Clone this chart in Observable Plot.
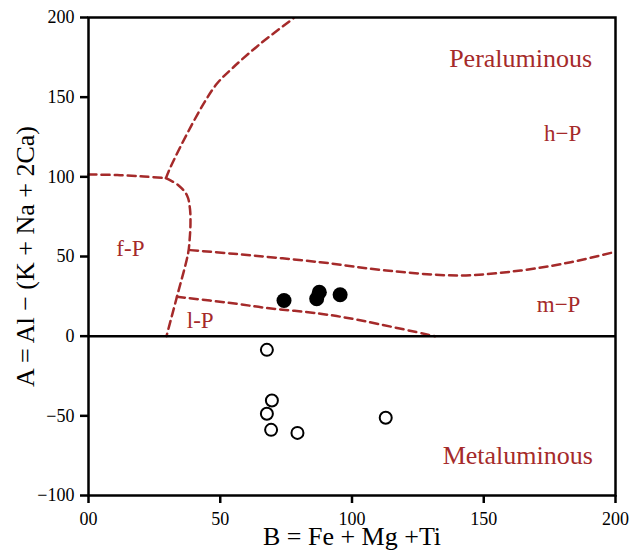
<!DOCTYPE html>
<html>
<head>
<meta charset="utf-8">
<script src="https://cdn.jsdelivr.net/npm/d3@7"></script>
<script src="https://cdn.jsdelivr.net/npm/@observablehq/plot@0.6"></script>
<style>
  html, body { margin: 0; padding: 0; background: white; }
  #chart svg { display: block; }
</style>
</head>
<body>
<div id="chart"></div>
<script>
// ---- Data ----
const xTicks = [0, 50, 100, 150, 200];
const xTickLabels = ["00", "50", "100", "150", "200"];
const yTicks = [-100, -50, 0, 50, 100, 150, 200];
const yTickLabels = ["\u2212100", "\u221250", "0", "50", "100", "150", "200"];

const xTitle = "B = Fe + Mg +Ti";
const yTitle = "A = Al \u2212 (K + Na + 2Ca)";

// Filled samples (peraluminous)
const filledB = [74.2, 87.6, 86.6, 95.5];
const filledA = [22.4, 27.6, 23.5, 26.0];

// Open samples (metaluminous)
const openB = [67.7, 69.6, 67.7, 69.3, 79.3, 112.8];
const openA = [-8.6, -40.4, -48.7, -58.8, -60.7, -51.2];

// Boundary curves (B, A)
const boundaryFP_top = [[0, 101.5], [10.9, 101.1], [21, 100.2], [29.4, 99.2]];
const boundaryHP_left = [[29.4, 99.2], [31.1, 106], [37.4, 127], [43.7, 145.9], [48.7, 158.4], [55, 168.8], [65.2, 183.5], [77.8, 199.5]];
const boundaryFP_right = [[29.4, 99.2], [34.2, 94.6], [37.4, 88.3], [38.5, 80], [38.7, 71], [38.4, 61], [37.8, 52], [33.6, 25], [29.6, 0]];
const boundaryMP_top = [[38.6, 54], [55, 51.7], [88, 46.4], [113, 41.2], [141, 38.1], [164, 41.2], [183, 46.4], [200, 53]];
const boundaryLP_top = [[33.6, 24.7], [56.3, 20.3], [67, 17.8], [88, 14.1], [102, 10.3], [131.5, 0]];

// Region labels
const regionNames = ["Peraluminous", "h\u2212P", "f-P", "l-P", "m\u2212P", "Metaluminous"];
const regionB = [164, 179.9, 15.9, 42.4, 178.4, 162.9];
const regionA = [168.8, 122.4, 50.6, 5.3, 14.9, -80.1];
const regionSize = [26, 23, 23, 23, 23, 26];

// ---- Build tables ----
const filled = filledB.map((b, i) => ({b, a: filledA[i]}));
const open = openB.map((b, i) => ({b, a: openA[i]}));
const boundaries = [boundaryFP_top, boundaryHP_left, boundaryFP_right, boundaryMP_top, boundaryLP_top]
  .flatMap((seg, k) => seg.map(([b, a]) => ({b, a, seg: k})));
const regions = regionNames.map((name, i) => ({name, b: regionB[i], a: regionA[i], size: regionSize[i]}));

const red = "#a52a2a";
const serif = "'Liberation Serif', 'Times New Roman', serif";

const chart = Plot.plot({
  width: 641,
  height: 558,
  marginLeft: 88,
  marginRight: 26,
  marginTop: 17,
  marginBottom: 63,
  style: {fontFamily: serif, fontSize: "18px", color: "black", background: "white"},
  x: {domain: [0, 200]},
  y: {domain: [-100, 200]},
  marks: [
    Plot.line(boundaries, {x: "b", y: "a", z: "seg", stroke: red, strokeWidth: 2.5, strokeDasharray: "8,5", curve: "catmull-rom"}),
    Plot.ruleY([0], {stroke: "black", strokeWidth: 2.5}),
    Plot.frame({stroke: "black", strokeWidth: 2.5}),
    Plot.axisX({ticks: xTicks, tickFormat: d => xTickLabels[xTicks.indexOf(d)], tickSize: 8, tickPadding: 9, strokeWidth: 2.5, fontSize: 18, fontFamily: serif, label: null}),
    Plot.axisY({ticks: yTicks, tickFormat: d => yTickLabels[yTicks.indexOf(d)], tickSize: 8, tickPadding: 6, strokeWidth: 2.5, fontSize: 18, fontFamily: serif, label: null}),
    Plot.dot(open, {x: "b", y: "a", r: 6, stroke: "black", strokeWidth: 2, fill: "white"}),
    Plot.dot(filled, {x: "b", y: "a", r: 7.5, fill: "black"}),
    ...[26, 23].map(s => Plot.text(regions.filter(d => d.size === s), {x: "b", y: "a", text: "name", fill: red, fontSize: s, fontFamily: serif, textAnchor: "middle", lineAnchor: "bottom"})),
    Plot.text([xTitle], {frameAnchor: "bottom", dy: 49, textAnchor: "middle", lineAnchor: "bottom", fontSize: 26, fontFamily: serif, fill: "black"}),
    Plot.text([yTitle], {frameAnchor: "left", dx: -63, rotate: -90, textAnchor: "middle", lineAnchor: "middle", fontSize: 26, fontFamily: serif, fill: "black"})
  ]
});
document.getElementById("chart").appendChild(chart);
</script>
</body>
</html>
